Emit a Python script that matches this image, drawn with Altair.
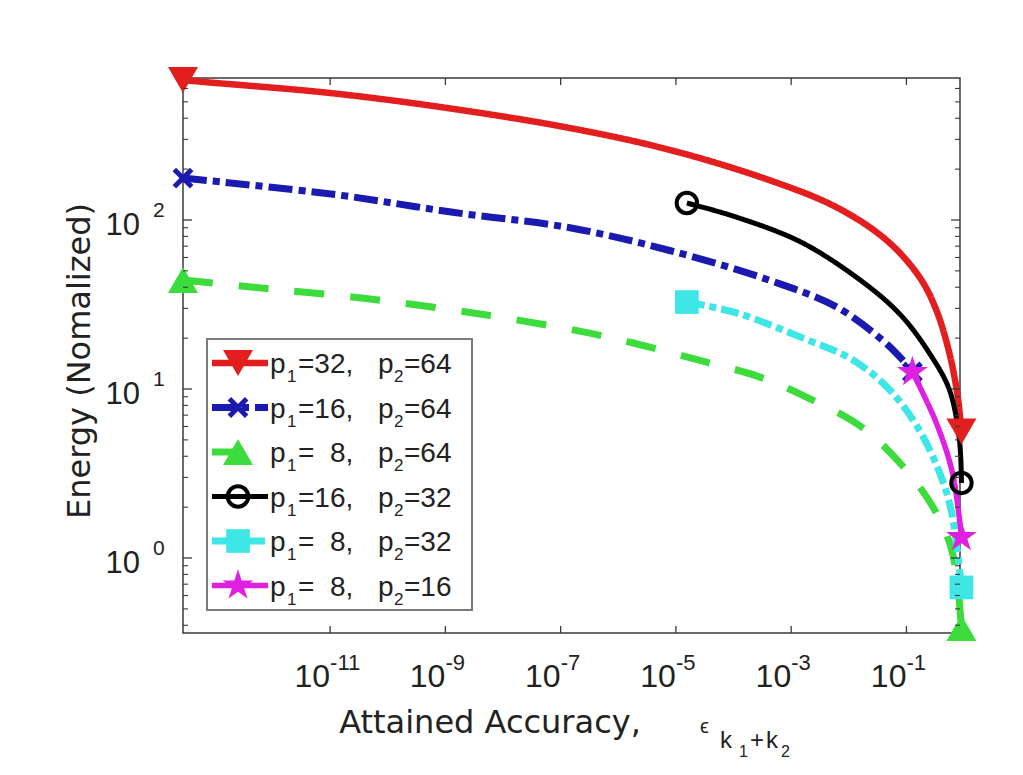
import altair as alt
import pandas as pd

# ---------------- data ----------------
series = ["p1=32, p2=64", "p1=16, p2=64", "p1=8, p2=64",
          "p1=16, p2=32", "p1=8, p2=32", "p1=8, p2=16"]
p1_vals = [32, 16, 8, 16, 8, 8]
p2_vals = [64, 64, 64, 32, 32, 16]

red_x = [2.8e-14, 6.3e-14, 1e-11, 1.07e-9, 1.45e-7, 7.8e-6, 4.2e-4, 6.1e-3, 0.045, 0.168, 0.33, 0.556, 0.77, 0.9]
red_y = [673, 656, 564, 460, 350, 260, 172, 119, 76, 46, 29.3, 16.3, 9.2, 5.6]

blue_x = [2.8e-14, 1.3e-11, 1.35e-9, 1.45e-7, 7.8e-6, 4.2e-4, 6.1e-3, 0.038, 0.085, 0.127]
blue_y = [177, 141, 111, 90, 66, 44, 30.6, 19.5, 14.9, 12.6]

green_x = [2.8e-14, 4.7e-13, 4.9e-11, 5.2e-9, 3.2e-7, 3.5e-6, 3.4e-5, 2.8e-4, 2.35e-3, 0.0173, 0.1, 0.33, 0.63, 0.9]
green_y = [44.2, 40, 34.1, 27.4, 21.4, 17.7, 14.4, 11.8, 8.6, 5.9, 3.3, 1.85, 1.07, 0.385]

black_x = [1.55e-5, 1.12e-4, 1.6e-3, 0.023, 0.085, 0.25, 0.556, 0.83, 0.9]
black_y = [126, 104, 73, 40, 26.7, 16.3, 9.9, 5.0, 2.78]

cyan_x = [1.55e-5, 1.12e-4, 1.6e-3, 0.0116, 0.051, 0.168, 0.42, 0.63, 0.9]
cyan_y = [32.7, 28.2, 20, 14.9, 9.9, 5.7, 2.9, 1.75, 0.67]

magenta_x = [0.127, 0.33, 0.63, 0.9]
magenta_y = [12.6, 6.3, 3.18, 1.33]

x_ticks = [1e-11, 1e-9, 1e-7, 1e-5, 1e-3, 1e-1]
x_tick_exp = ["-11", "-9", "-7", "-5", "-3", "-1"]
y_ticks = [1, 10, 100]
y_tick_exp = ["0", "1", "2"]
y_minor = [0.4, 0.5, 0.6, 0.7, 0.8, 0.9, 2, 3, 4, 5, 6, 7, 8, 9,
           20, 30, 40, 50, 60, 70, 80, 90, 200, 300, 400, 500, 600]

# ---------------- styles ----------------
colors = ["#e31e1e", "#1a1ab0", "#3cdc3c", "#000000", "#3ee6e6", "#e020e0"]
dashes = [[1, 0], [24, 6, 7, 6], [30, 26], [1, 0], [18, 5, 7, 5], [1, 0]]
line_w = [6.5, 7, 7, 5, 7, 5.5]
STAR = ("M0,-1L0.2245,-0.309L0.951,-0.309L0.3633,0.118L0.5878,0.809L0,0.382"
        "L-0.5878,0.809L-0.3633,0.118L-0.951,-0.309L-0.2245,-0.309Z")
XMARK = "M-1,-1L1,1M-1,1L1,-1"
shapes = ["triangle-down", XMARK, "triangle-up", "circle", "square", STAR]
msize = [900, 300, 900, 420, 560, 1050]
mfilled = [1, 0, 1, 0, 1, 1]
mstroke = [1, 5, 1, 4, 1, 1]

W, H = 777, 555
xs = alt.Scale(type="log", domain=[2.8e-14, 0.85], nice=False)
ys = alt.Scale(type="log", domain=[0.36, 692], nice=False)

all_x = [red_x, blue_x, green_x, black_x, cyan_x, magenta_x]
all_y = [red_y, blue_y, green_y, black_y, cyan_y, magenta_y]

rows, prow = [], []
for k, s in enumerate(series):
    xx, yy = all_x[k], all_y[k]
    for i, (a, b) in enumerate(zip(xx, yy)):
        rows.append({"series": s, "x": a, "y": b, "i": i, "sw": line_w[k]})
    for j in (0, len(xx) - 1):
        prow.append({"series": s, "x": xx[j], "y": yy[j], "ms": msize[k],
                     "filled": mfilled[k], "msw": mstroke[k], "k": k})
df = pd.DataFrame(rows)
pdf = pd.DataFrame(prow)

color_enc = alt.Color("series:N", scale=alt.Scale(domain=series, range=colors), legend=None)
dash_enc = alt.StrokeDash("series:N", scale=alt.Scale(domain=series, range=dashes), legend=None)
shape_enc = alt.Shape("series:N", scale=alt.Scale(domain=series, range=shapes), legend=None)
X = alt.X("x:Q", scale=xs, axis=None)
Y = alt.Y("y:Q", scale=ys, axis=None)

lines = alt.Chart(df).mark_line(interpolate="catmull-rom", strokeCap="butt").encode(
    x=X, y=Y, color=color_enc, strokeDash=dash_enc,
    strokeWidth=alt.StrokeWidth("sw:Q", scale=None), order="i:Q")

pts_open = alt.Chart(pdf).transform_filter("datum.filled == 0").mark_point(
    filled=False, opacity=1).encode(
    x=X, y=Y, color=color_enc, shape=shape_enc,
    size=alt.Size("ms:Q", scale=None), strokeWidth=alt.StrokeWidth("msw:Q", scale=None))
pts_fill = alt.Chart(pdf).transform_filter("datum.filled == 1").mark_point(
    filled=True, opacity=1).encode(
    x=X, y=Y, color=color_enc, shape=shape_enc, size=alt.Size("ms:Q", scale=None))

# ---------------- ticks (inward, box style) ----------------
xt = pd.DataFrame({"x": x_ticks, "e": x_tick_exp})
yt = pd.DataFrame({"y": y_ticks, "e": y_tick_exp})
ym = pd.DataFrame({"y": y_minor})
tick_col = "#3a3a3a"
xt_b = alt.Chart(xt).mark_rule(color=tick_col, strokeWidth=1.3).encode(x=X, y=alt.value(H), y2=alt.value(H - 7))
xt_t = alt.Chart(xt).mark_rule(color=tick_col, strokeWidth=1.3).encode(x=X, y=alt.value(0), y2=alt.value(7))
yt_l = alt.Chart(yt).mark_rule(color=tick_col, strokeWidth=1.3).encode(y=Y, x=alt.value(0), x2=alt.value(9))
yt_r = alt.Chart(yt).mark_rule(color=tick_col, strokeWidth=1.3).encode(y=Y, x=alt.value(W), x2=alt.value(W - 9))
ym_l = alt.Chart(ym).mark_rule(color=tick_col, strokeWidth=1.1).encode(y=Y, x=alt.value(0), x2=alt.value(5))
ym_r = alt.Chart(ym).mark_rule(color=tick_col, strokeWidth=1.1).encode(y=Y, x=alt.value(W), x2=alt.value(W - 5))

LAB = "Liberation Sans"
xl_base = alt.Chart(xt).transform_calculate(bo="2 - 9*(length(datum.e)-2)").mark_text(
    font=LAB, fontSize=32, align="right", baseline="alphabetic", color="#222").encode(
    x=X, xOffset=alt.XOffset("bo:Q", scale=None), y=alt.value(609), text=alt.value("10"))
xl_exp = alt.Chart(xt).transform_calculate(eo="7 - 9*(length(datum.e)-2)").mark_text(
    font=LAB, fontSize=22, align="left", baseline="alphabetic", color="#222").encode(
    x=X, xOffset=alt.XOffset("eo:Q", scale=None), y=alt.value(592), text="e:N")
yl_base = alt.Chart(yt).mark_text(font=LAB, fontSize=31, align="right", baseline="alphabetic",
                                  dy=15, color="#222").encode(
    y=Y, x=alt.value(-43), text=alt.value("10"))
yl_exp = alt.Chart(yt).mark_text(font=LAB, fontSize=21, align="left", baseline="alphabetic",
                                 dy=-3, color="#222").encode(
    y=Y, x=alt.value(-30), text="e:N")

# ---------------- titles ----------------
TF = "DejaVu Sans"
one = pd.DataFrame({"t": ["Energy (Nomalized)"]})
ytitle = alt.Chart(one).mark_text(font=TF, fontSize=32, angle=270, align="center",
                                  baseline="middle", color="#222").encode(
    text="t:N", x=alt.value(-103), y=alt.value(283))
xt_df = pd.DataFrame({"t": ["Attained Accuracy,"]})
xtitle = alt.Chart(xt_df).mark_text(font=TF, fontSize=32, align="center",
                                    baseline="alphabetic", color="#222").encode(
    text="t:N", x=alt.value(307), y=alt.value(655))
sym_df = pd.DataFrame({
    "t": ["\u03f5", "k", "1", "+", "k", "2"],
    "px": [517, 537, 556, 567, 583, 598],
    "py": [655, 670, 679, 670, 670, 679],
    "fs": [20, 24, 16, 24, 24, 16],
})
xsym = alt.Chart(sym_df).mark_text(font=LAB, align="left", baseline="alphabetic", color="#222").encode(
    text="t:N", x=alt.X("px:Q", scale=None), y=alt.Y("py:Q", scale=None),
    size=alt.Size("fs:Q", scale=None))

# ---------------- legend (drawn by hand, MATLAB style) ----------------
leg = pd.DataFrame({
    "series": series,
    "p1": ["=" + (str(v) if v >= 10 else "\u00a0\u00a0" + str(v)) + "," for v in p1_vals],
    "p2": ["=" + str(v) for v in p2_vals],
    "ly": [285 + 44.5 * i for i in range(6)],
    "sw": line_w, "ms": msize, "filled": mfilled, "msw": mstroke,
})
LY = alt.Y("ly:Q", scale=None)
box = alt.Chart(pd.DataFrame({"a": [0]})).mark_rect(fill="white", stroke="#7a7a7a", strokeWidth=2).encode(
    x=alt.value(24), x2=alt.value(289), y=alt.value(261), y2=alt.value(532))
leg_line = alt.Chart(leg).mark_rule(strokeCap="butt").encode(
    x=alt.value(29), x2=alt.value(85), y=LY, color=color_enc, strokeDash=dash_enc,
    strokeWidth=alt.StrokeWidth("sw:Q", scale=None))
leg_open = alt.Chart(leg).transform_filter("datum.filled == 0").mark_point(filled=False, opacity=1).encode(
    x=alt.value(55), y=LY, color=color_enc, shape=shape_enc,
    size=alt.Size("ms:Q", scale=None), strokeWidth=alt.StrokeWidth("msw:Q", scale=None))
leg_fill = alt.Chart(leg).transform_filter("datum.filled == 1").mark_point(filled=True, opacity=1).encode(
    x=alt.value(55), y=LY, color=color_enc, shape=shape_enc, size=alt.Size("ms:Q", scale=None))

def leg_text(field, xpos, dy, fs):
    return alt.Chart(leg).mark_text(font=LAB, fontSize=fs, align="left", baseline="alphabetic",
                                    dy=dy, color="#222").encode(x=alt.value(xpos), y=LY, text=field)

leg_p_a = leg_text(alt.value("p"), 87, 10, 28)
leg_s_a = leg_text(alt.value("1"), 104, 19, 17)
leg_v_a = leg_text("p1:N", 115, 10, 28)
leg_p_b = leg_text(alt.value("p"), 195, 10, 28)
leg_s_b = leg_text(alt.value("2"), 211, 19, 17)
leg_v_b = leg_text("p2:N", 221, 10, 28)

chart = alt.layer(
    lines, pts_open, pts_fill,
    xt_b, xt_t, yt_l, yt_r, ym_l, ym_r,
    xl_base, xl_exp, yl_base, yl_exp,
    ytitle, xtitle, xsym,
    box, leg_line, leg_open, leg_fill,
    leg_p_a, leg_s_a, leg_v_a, leg_p_b, leg_s_b, leg_v_b,
).properties(
    width=W, height=H,
    autosize=alt.AutoSizeParams(type="none"),
    padding={"left": 175, "top": 70, "right": 25, "bottom": 132},
    background="white",
).configure_view(stroke="#3a3a3a", strokeWidth=1.5)

chart.save("out.html", embed_options={"renderer": "svg", "actions": False})
